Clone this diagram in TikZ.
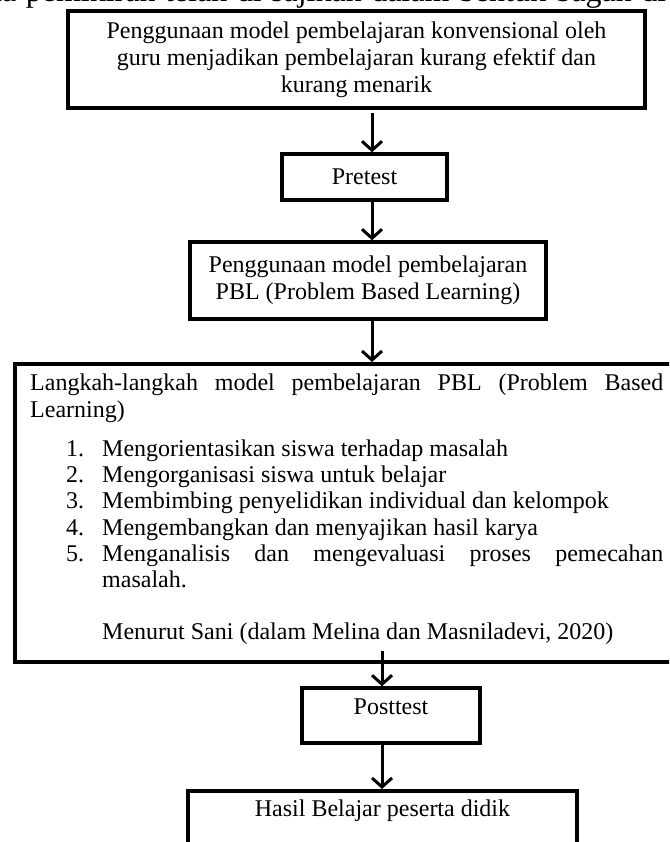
\documentclass[tikz,border=0pt]{standalone}
\usepackage{fontspec}
\setmainfont{Liberation Serif}
\usetikzlibrary{arrows.meta}
\newcommand\boxfont{\fontsize{24}{27}\selectfont}
\newcommand\stepitem[2]{\par\hangindent=72pt\hangafter=1\noindent\hspace*{36pt}\makebox[36pt][l]{#1}#2}
\tikzset{
  box/.style={draw, line width=3.5pt, rectangle, inner sep=0pt, align=center, font=\boxfont},
  arr/.style={line width=3pt, -{Straight Barb[length=9pt,width=20pt]}},
  plain/.style={inner sep=0pt, font=\boxfont},
}
\begin{document}
\begin{tikzpicture}[x=1pt,y=1pt]
\useasboundingbox (0,0) rectangle (669,-842);
\clip (0,0) rectangle (669,-842);
\fill[white] (0,0) rectangle (669,-842);
% cut-off line of the page above
\node[anchor=base west, inner sep=0pt, font=\fontsize{32}{36}\selectfont] (head) at (-14,-2)
  {\makebox[680pt][s]{na pemikiran telah di sajikan dalam bentuk bagan di}};
% boxes
\node[box, minimum width=577, minimum height=97] (top) at (356.5,-59.5)
  {Penggunaan model pembelajaran konvensional oleh\\guru menjadikan pembelajaran kurang efektif dan\\kurang menarik};
\node[box, minimum width=165, minimum height=46] (pre) at (364.5,-177) {Pretest};
\node[box, minimum width=356, minimum height=77] (pbl) at (368,-280.5)
  {Penggunaan model pembelajaran\\PBL (Problem Based Learning)};
\node[box, minimum width=690, minimum height=298, anchor=north west] (big) at (13,-362) {};
\node[anchor=north west, text width=633pt, align=justify, inner sep=0pt, font=\boxfont] (steps) at (30,-374) {%
Langkah-langkah model pembelajaran PBL (Problem Based\linebreak Learning)\par
\vspace{12.5pt}
\baselineskip=26.2pt
\stepitem{1.}{Mengorientasikan siswa terhadap masalah}
\stepitem{2.}{Mengorganisasi siswa untuk belajar}
\stepitem{3.}{Membimbing penyelidikan individual dan kelompok}
\stepitem{4.}{Mengembangkan dan menyajikan hasil karya}
\stepitem{5.}{Menganalisis dan mengevaluasi proses pemecahan\linebreak masalah.}\par
\vspace{26.2pt}
\noindent\hspace*{72pt}Menurut Sani (dalam Melina dan Masniladevi, 2020)\par};
\node[box, minimum width=178, minimum height=55] (post) at (391,-715.5) {};
\node[plain, anchor=base] (postt) at (391,-714) {Posttest};
\node[box, minimum width=389, minimum height=90, anchor=north] (hasil) at (382.5,-789) {};
\node[plain, anchor=base] (hasilt) at (382.5,-816) {Hasil Belajar peserta didik};
% connectors
\coordinate (c1) at (372,-113);
\coordinate (c4) at (382,-651);
\draw[arr] (c1) -- (c1 |- pre.north);
\draw[arr] (pre.south -| c1) -- (pbl.north -| c1);
\draw[arr] (pbl.south -| c1) -- (big.north -| c1);
\draw[arr] (c4) -- (c4 |- post.north);
\draw[arr] (post.south -| c4) -- (hasil.north -| c4);
\end{tikzpicture}
\end{document}
